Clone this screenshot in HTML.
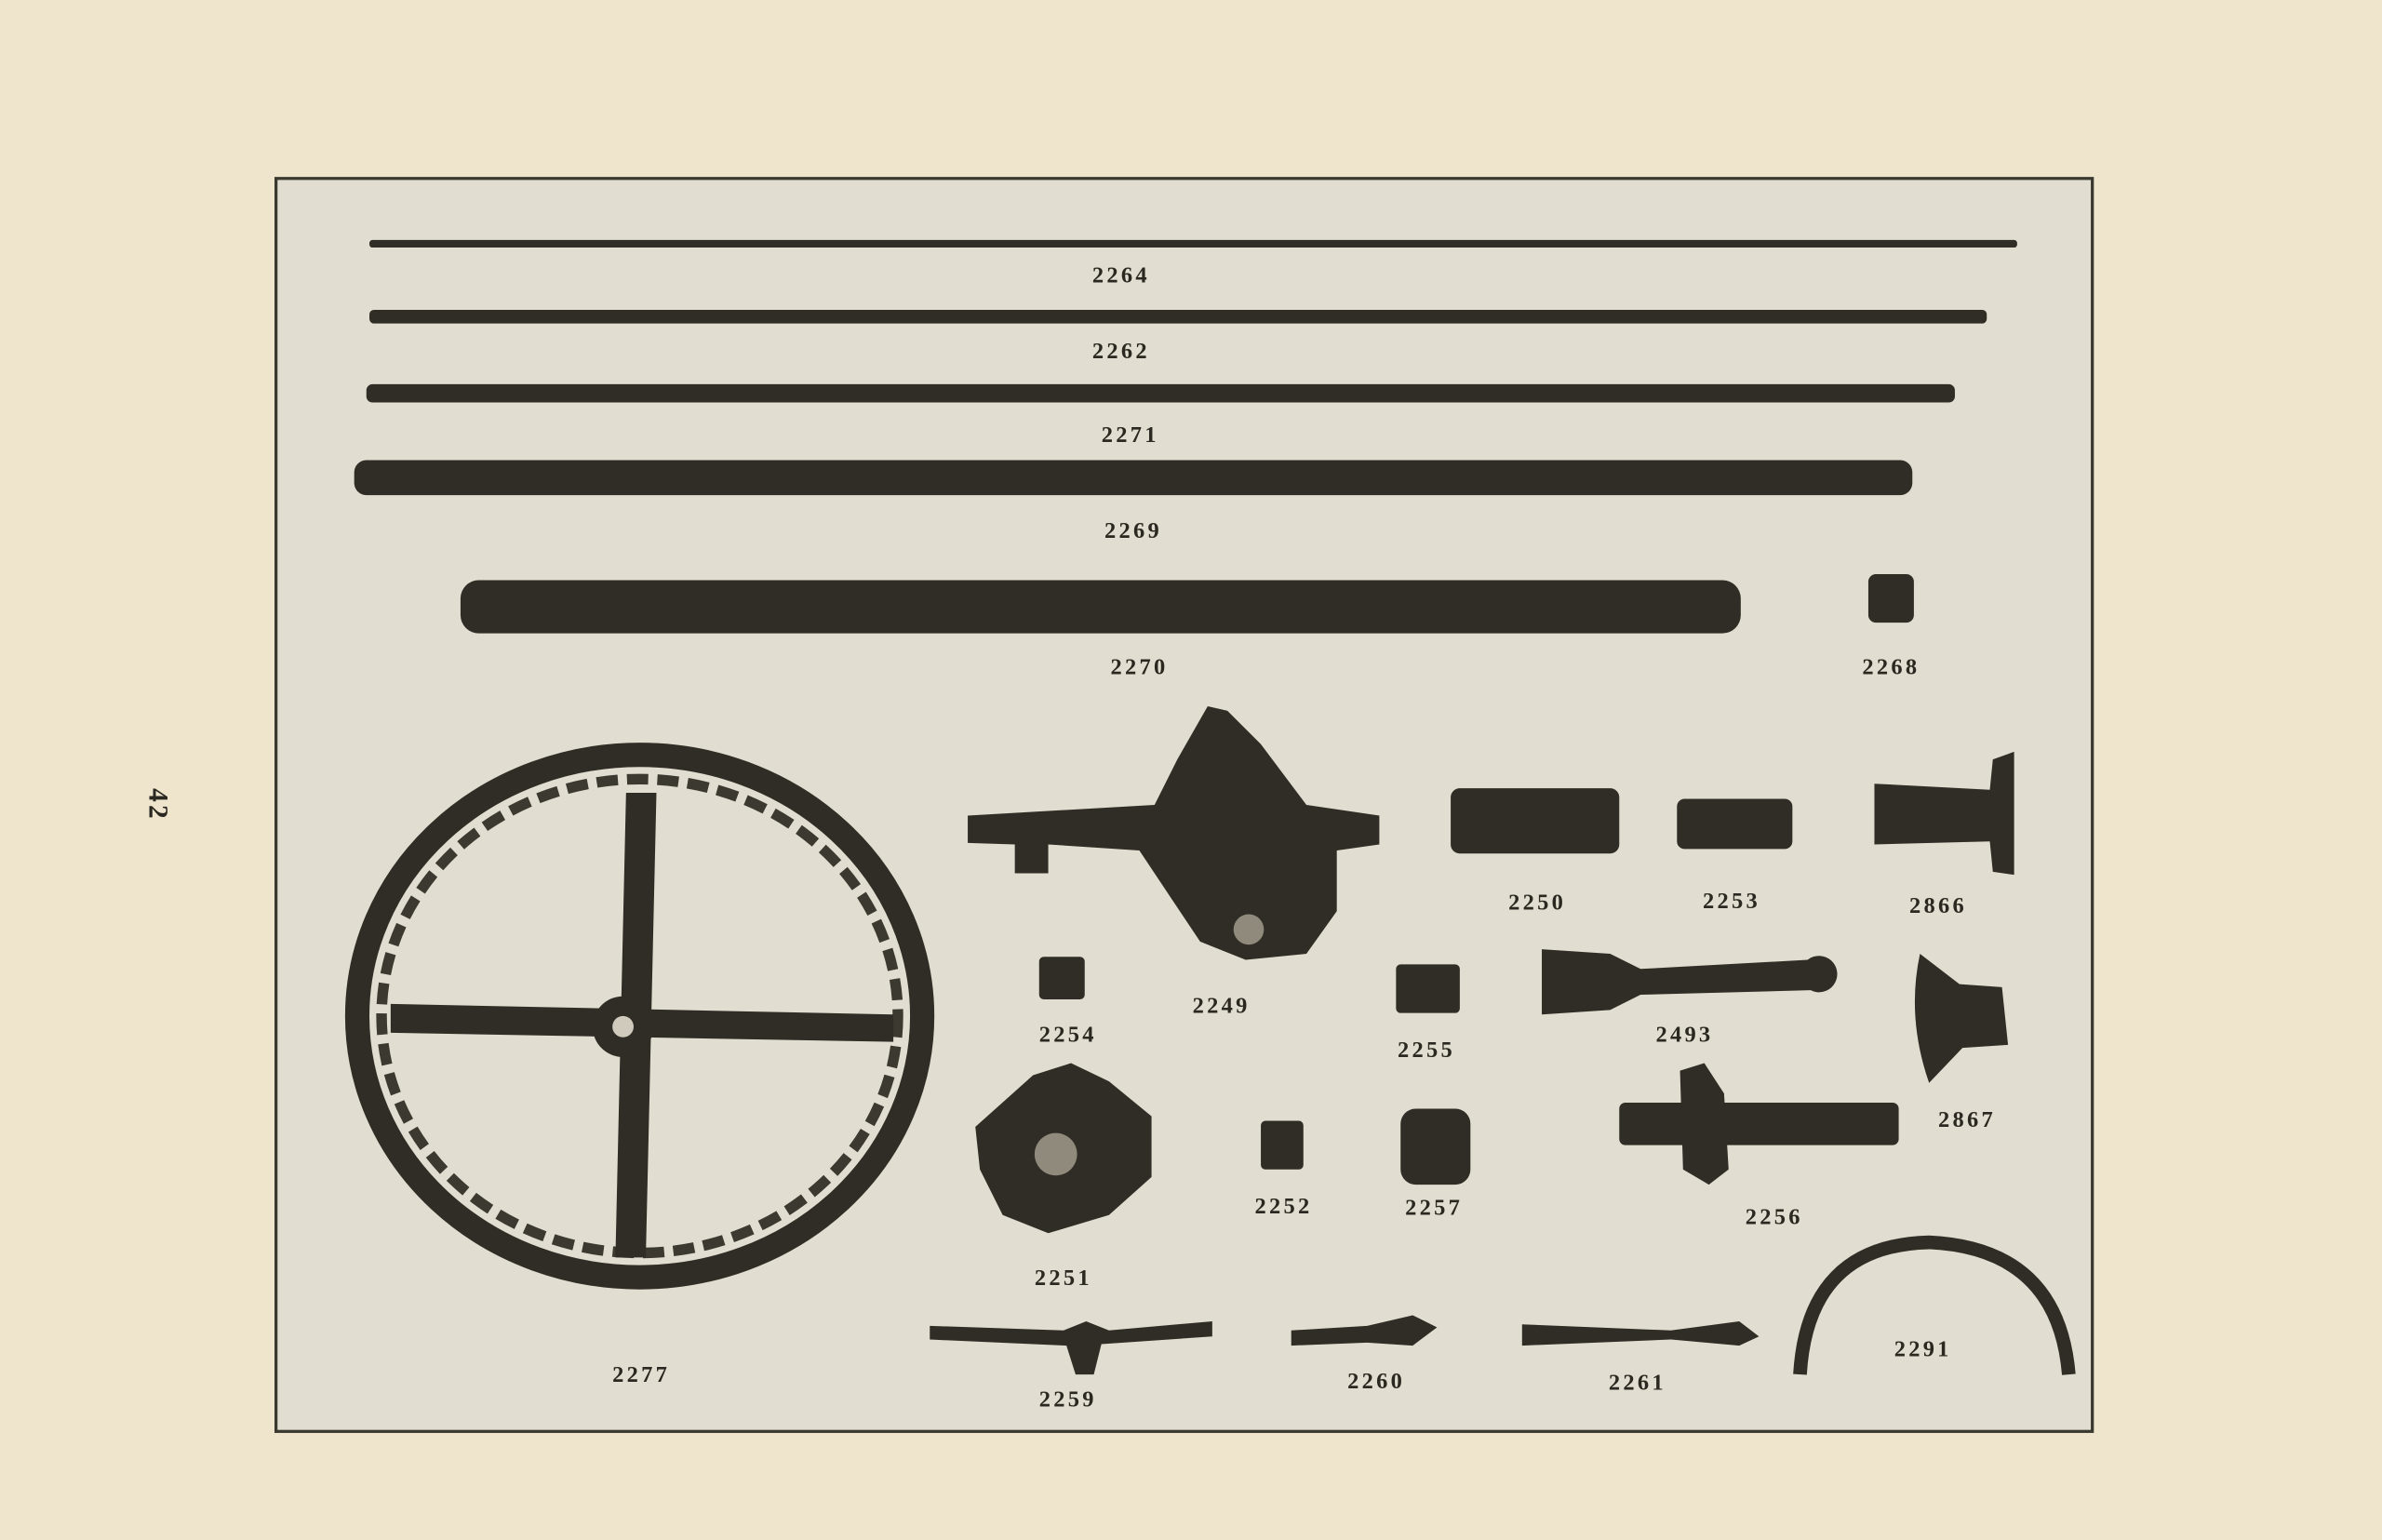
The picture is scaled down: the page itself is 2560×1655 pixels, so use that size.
<!DOCTYPE html>
<html><head><meta charset="utf-8"><style>
html,body{margin:0;padding:0;background:#efe4cc;}
svg{display:block}
text{font-family:"Liberation Serif",serif;font-weight:bold;font-size:15px;fill:#2a2820;letter-spacing:2px;text-anchor:middle}
</style></head><body>
<svg width="2560" height="1655" viewBox="0 0 1568 1014" xmlns="http://www.w3.org/2000/svg">
<rect width="1568" height="1014" fill="#efe4cc"/>
<text x="98" y="530" transform="rotate(90 98 530)" style="font-size:18px">42</text>
<rect x="181.5" y="117.5" width="1196" height="825" fill="#e1ddd0" stroke="#3a392f" stroke-width="2"/>
<g fill="#2f2d25" stroke="none">
<rect x="243" y="158" width="1085" height="5" rx="2"/>
<rect x="243" y="204" width="1065" height="9" rx="3"/>
<rect x="241" y="253" width="1046" height="12" rx="4"/>
<rect x="233" y="303" width="1026" height="23" rx="8"/>
<rect x="303" y="382" width="843" height="35" rx="12"/>
<rect x="1230" y="378" width="30" height="32" rx="5"/>
<ellipse cx="421" cy="669" rx="186" ry="172" fill="none" stroke="#2f2d25" stroke-width="16"/>
<ellipse cx="421" cy="669" rx="170" ry="156" fill="none" stroke="#3c3a30" stroke-width="7" stroke-dasharray="14 6"/>
<path d="M412 522 L432 522 L425 828 L405 828 Z"/>
<path d="M257 661 L588 668 L588 686 L257 680 Z"/>
<circle cx="410" cy="676" r="20"/>
<circle cx="410" cy="676" r="7" fill="#cfcabc"/>
<path d="M637 537 L760 530 L775 500 L795 465 L808 468 L830 490 L860 530 L908 537 L908 556 L880 560 L880 600 L860 628 L820 632 L790 620 L770 590 L750 560 L690 556 L690 575 L668 575 L668 556 L637 555 Z"/>
<circle cx="822" cy="612" r="10" fill="#8f8a7c"/>
<rect x="955" y="519" width="111" height="43" rx="6"/>
<rect x="1104" y="526" width="76" height="33" rx="5"/>
<path d="M1234 516 L1310 520 L1312 500 L1326 495 L1326 576 L1312 574 L1310 554 L1234 556 Z"/>
<rect x="684" y="630" width="30" height="28" rx="3"/>
<rect x="919" y="635" width="42" height="32" rx="3"/>
<rect x="830" y="738" width="28" height="32" rx="3"/>
<rect x="922" y="730" width="46" height="50" rx="10"/>
<path d="M1015 625 L1060 628 L1080 638 L1190 632 A12 12 0 1 1 1192 652 L1080 655 L1060 665 L1015 668 Z"/>
<path d="M1264 628 L1290 648 L1318 650 L1322 688 L1292 690 L1270 713 Q1255 670 1264 628 Z"/>
<path d="M680 708 L705 700 L730 712 L758 735 L758 775 L730 800 L690 812 L660 800 L645 770 L642 742 Z"/>
<circle cx="695" cy="760" r="14" fill="#8f8a7c"/>
<rect x="1066" y="726" width="184" height="28" rx="4"/>
<path d="M1106 705 L1122 700 L1135 720 L1138 770 L1125 780 L1108 770 Z"/>
<path d="M612 873 L700 876 L715 870 L730 876 L798 870 L798 880 L725 885 L720 905 L708 905 L702 886 L612 882 Z"/>
<path d="M850 876 L900 873 L930 866 L946 874 L930 886 L900 884 L850 886 Z"/>
<path d="M1002 872 L1100 876 L1145 870 L1158 880 L1145 886 L1100 882 L1002 886 Z"/>
</g>
<path d="M1185 905 Q1190 820 1270 818 Q1355 822 1362 905" fill="none" stroke="#2f2d25" stroke-width="9"/>
<g>
<text x="738" y="186">2264</text>
<text x="738" y="236">2262</text>
<text x="744" y="291">2271</text>
<text x="746" y="354">2269</text>
<text x="750" y="444">2270</text>
<text x="1245" y="444">2268</text>
<text x="1012" y="599">2250</text>
<text x="1140" y="598">2253</text>
<text x="1276" y="601">2866</text>
<text x="804" y="667">2249</text>
<text x="703" y="686">2254</text>
<text x="939" y="696">2255</text>
<text x="1109" y="686">2493</text>
<text x="1295" y="742">2867</text>
<text x="845" y="799">2252</text>
<text x="944" y="800">2257</text>
<text x="1168" y="806">2256</text>
<text x="700" y="846">2251</text>
<text x="422" y="910">2277</text>
<text x="703" y="926">2259</text>
<text x="906" y="914">2260</text>
<text x="1078" y="915">2261</text>
<text x="1266" y="893">2291</text>
</g>
</svg>
</body></html>
